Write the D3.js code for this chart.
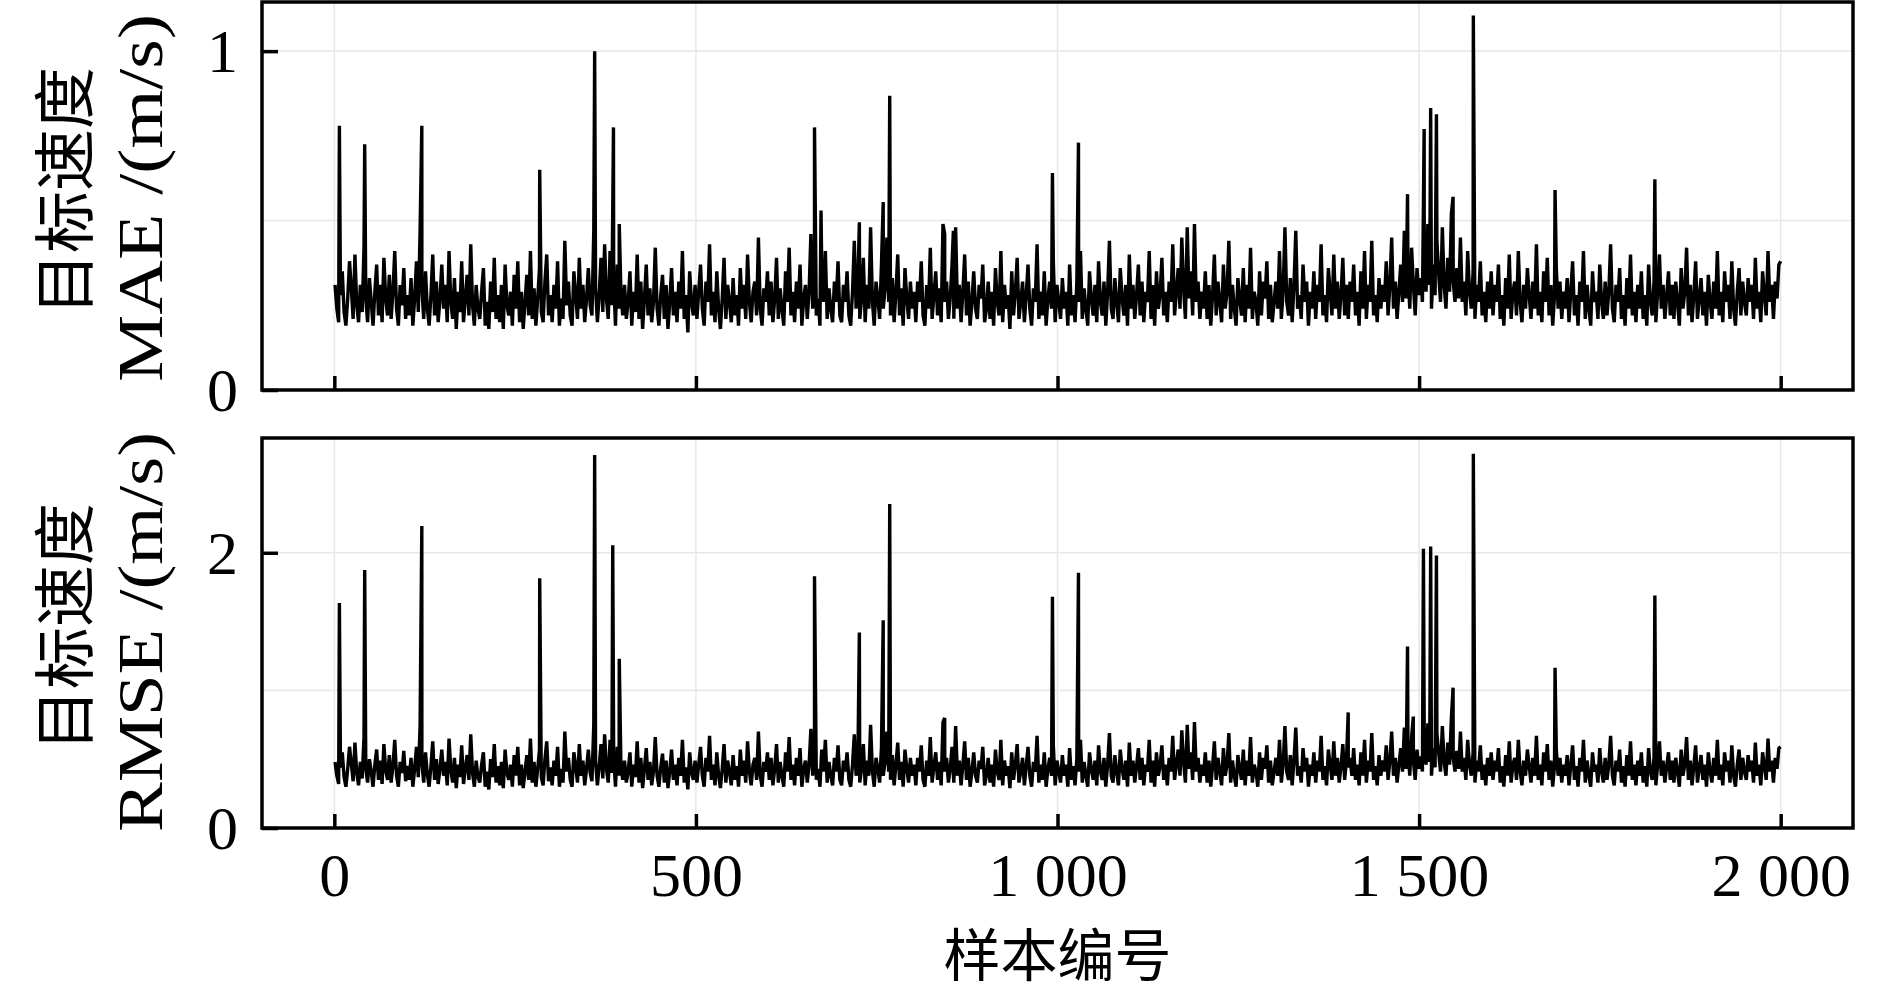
<!DOCTYPE html>
<html><head><meta charset="utf-8">
<script src="https://cdn.jsdelivr.net/npm/d3@7"></script>
<style>body{margin:0;background:#fff} svg{display:block}</style>
</head><body>
<svg id="chart" width="1890" height="993"></svg>
<script>
// ---------- data ----------
const xTickValues = [0, 500, 1000, 1500, 2000];
const xTickLabels = ["0", "500", "1 000", "1 500", "2 000"];
const maeTickValues = [0, 1];
const maeTickLabels = ["0", "1"];
const maeGridValues = [0.5, 1];
const rmseTickValues = [0, 2];
const rmseTickLabels = ["0", "2"];
const rmseGridValues = [1, 2];
const xLabel = "样本编号";
const yLabelCn = "目标速度";
const maeLabel = "MAE /(m/s)";
const rmseLabel = "RMSE /(m/s)";
const sampleFirst = 1, sampleLast = 2000;

// background noise, read about every 2.5 samples, in 0.01 m/s (one row = 50 samples)
const maeBaseCentis = [
31,24,20,28,35,23,19,27,38,30,21,40,25,20,31,23,42,27,20,33,
26,19,29,37,22,31,20,39,27,22,34,21,29,41,24,19,31,25,36,21,
28,22,33,19,27,38,23,47,30,21,35,24,19,28,40,22,32,20,27,37,
24,31,20,41,26,21,33,18,29,23,38,20,27,34,22,43,25,19,31,24,
21,29,36,19,26,18,32,23,39,21,28,20,31,18,37,25,22,29,19,34,
24,38,20,29,18,26,34,22,41,21,30,19,27,36,23,20,32,40,22,28,
20,31,24,38,19,27,21,44,25,32,22,19,35,28,21,39,24,31,20,27,
36,25,22,47,30,20,28,39,23,43,27,21,41,25,32,19,37,24,29,22,
31,21,26,35,19,29,23,40,21,32,18,27,37,22,30,20,26,42,24,19,
28,34,21,31,18,26,36,22,29,20,32,24,41,21,28,17,35,26,22,31,
21,29,37,24,19,32,26,43,22,29,20,35,24,18,27,39,21,31,26,20,
33,22,28,19,36,24,31,21,40,26,20,29,32,22,45,24,19,30,26,35,
22,32,20,27,39,21,30,24,19,35,26,42,22,29,20,32,24,37,19,27,
31,21,29,46,24,33,22,27,19,36,26,41,21,30,24,20,32,26,38,22,
20,31,26,35,22,19,29,44,24,32,21,27,39,20,31,24,48,26,19,32,
27,21,37,24,30,45,26,22,33,20,29,40,22,30,19,36,27,21,32,24,
29,20,32,26,38,22,19,31,24,42,21,28,35,22,30,20,49,26,32,21,
27,37,21,48,24,31,20,29,40,22,32,19,26,35,24,21,31,27,37,20,
24,32,21,29,19,36,26,22,41,20,31,24,28,18,35,22,29,39,21,26,
32,20,28,37,24,19,30,26,43,21,29,22,35,19,27,32,24,38,20,31,
26,21,33,24,29,19,37,22,28,20,32,26,41,21,30,24,19,35,27,22,
31,20,38,26,22,32,19,29,44,24,21,33,26,20,36,27,22,31,19,40,
24,31,21,28,37,22,32,20,29,26,41,21,31,19,35,24,28,39,22,29,
20,32,26,43,22,29,36,24,45,30,21,48,27,35,22,49,26,32,21,29,
24,35,21,31,19,28,40,22,32,26,20,37,24,29,44,21,31,24,19,33,
27,22,36,20,31,24,42,21,29,26,19,35,22,32,27,38,21,31,20,26,
32,24,41,21,29,48,26,22,33,20,31,47,24,28,21,37,26,32,19,29,
24,35,21,31,26,43,22,28,20,36,29,22,40,24,32,21,28,39,22,31,
21,32,26,37,22,29,19,35,24,41,21,31,26,44,22,28,20,33,24,31,
26,38,22,31,45,24,32,21,29,37,26,47,27,35,24,42,31,22,36,28,
33,26,41,29,49,31,24,37,28,44,34,26,48,31,24,39,29,52,32,26,
36,27,45,26,32,22,41,29,24,35,21,31,26,38,22,29,20,32,24,35,
22,31,26,37,21,28,19,33,24,40,21,29,32,22,41,26,20,31,24,36,
28,21,32,24,43,22,29,20,35,26,39,22,31,19,28,36,24,32,21,29,
24,33,20,29,38,22,28,19,32,26,41,21,31,24,19,35,26,29,21,37,
26,21,32,22,29,43,24,20,31,26,36,21,28,19,33,24,40,22,29,20,
31,24,35,21,28,19,37,26,22,32,20,29,40,24,31,21,28,35,22,31,
21,32,26,19,36,24,29,42,22,31,20,28,38,21,27,33,22,29,19,34,
26,21,32,24,41,22,29,20,35,26,31,21,38,24,19,29,36,22,32,26,
22,33,26,31,21,39,24,29,20,35,28,22,41,26,31,21,32,27,37,38];

const rmseBaseCentis = [
48,38,32,44,55,37,30,43,59,47,34,62,40,31,48,36,66,43,33,50,
41,30,46,57,35,49,32,61,42,35,53,33,45,64,38,30,48,40,56,34,
45,35,51,30,43,59,37,74,47,33,55,39,30,45,63,35,50,32,43,57,
38,48,31,65,42,33,51,29,46,37,60,32,43,53,35,68,40,30,49,37,
33,46,55,30,41,28,50,37,61,33,45,31,48,29,57,40,35,46,30,53,
38,59,31,46,29,41,53,35,65,33,48,30,43,57,37,31,50,63,34,44,
31,49,38,59,30,43,33,70,41,51,35,30,55,45,33,61,38,49,31,43,
57,40,34,75,48,31,45,61,36,68,43,33,64,40,51,30,59,38,46,35,
49,33,41,55,30,46,37,63,33,51,29,43,58,35,48,31,41,66,38,30,
44,54,33,49,29,41,57,35,46,31,51,38,64,33,44,28,55,41,35,49,
33,46,59,38,30,51,41,67,35,46,31,55,38,29,43,61,33,49,41,31,
53,35,45,30,57,38,49,33,63,41,31,46,51,35,70,38,30,48,41,55,
35,51,31,43,61,33,48,38,30,55,41,66,35,46,31,51,38,58,30,43,
49,33,46,72,38,53,35,43,30,57,41,64,33,48,38,31,51,41,60,35,
31,49,41,55,35,30,46,68,38,51,33,43,61,31,49,38,75,41,30,51,
43,33,58,38,48,70,41,35,53,31,46,62,35,48,30,57,43,33,51,38,
46,31,51,41,60,35,30,49,38,66,33,45,55,35,48,31,77,41,51,33,
43,59,33,74,38,49,31,46,63,35,51,30,41,55,38,33,49,43,59,31,
38,51,33,46,30,57,41,35,64,31,49,38,45,29,55,35,46,61,33,41,
51,31,45,59,38,30,48,41,67,33,46,35,55,30,43,51,38,60,31,49,
41,33,53,38,46,30,58,35,45,31,51,41,64,33,48,38,30,55,43,35,
49,31,60,41,35,51,30,46,69,38,33,53,41,31,57,43,35,49,30,62,
38,49,33,45,58,35,51,31,46,41,64,33,49,30,55,38,45,60,35,46,
31,51,41,67,35,46,57,38,71,48,33,75,43,55,35,77,41,51,33,46,
38,55,33,49,30,45,63,35,51,41,31,58,38,46,69,33,49,38,30,53,
43,35,57,31,49,38,66,33,46,41,30,55,35,51,43,60,33,49,31,41,
51,38,64,33,46,74,41,35,53,31,49,73,38,45,33,58,41,51,30,46,
38,55,33,49,41,67,35,45,31,57,46,35,63,38,51,33,45,61,35,49,
44,51,38,58,35,46,31,55,38,64,33,49,41,69,35,45,31,53,38,49,
41,60,35,49,70,38,51,33,46,58,41,73,43,55,38,66,49,35,57,43,
52,41,64,46,76,48,38,58,44,69,54,41,74,48,38,62,46,80,51,41,
56,43,70,41,51,35,64,46,38,55,33,49,41,60,35,46,31,51,38,55,
35,49,41,58,33,45,30,53,38,63,33,46,51,35,64,41,31,49,38,57,
45,33,51,38,67,35,46,31,55,41,61,35,49,30,45,57,38,51,33,46,
38,53,31,46,60,35,45,30,51,41,64,33,49,38,30,55,41,46,33,58,
41,33,51,35,46,67,38,31,49,41,57,33,45,30,53,38,63,35,46,31,
49,38,55,33,45,30,58,41,35,51,31,46,63,38,49,33,45,55,35,49,
33,51,41,30,57,38,46,66,35,49,31,45,60,33,43,53,35,46,30,55,
41,33,51,38,64,35,46,31,55,41,49,33,60,38,30,46,57,35,51,41,
35,53,41,49,33,62,38,46,31,55,45,35,65,41,49,33,51,43,58,59];

// isolated spikes [sample, value m/s]
const maeSpikes = [
[7,0.78],[42,0.725],[121,0.78],[284,0.65],[360,1.0],[386,0.775],[394,0.49],
[664,0.775],[673,0.53],[726,0.495],[759,0.555],[768,0.868],[844,0.46],[856,0.47],
[993,0.64],[1029,0.73],[1484,0.578],[1507,0.77],[1516,0.832],[1524,0.814],
[1547,0.57],[1575,1.105],[1688,0.59],[1826,0.622]];
const rmseSpikes = [
[7,1.635],[42,1.875],[121,2.195],[284,1.815],[360,2.71],[385,2.055],[394,1.23],
[664,1.83],[726,1.42],[759,1.51],[768,2.355],[844,0.80],[993,1.68],[1029,1.855],
[1402,0.84],[1484,1.318],[1492,0.81],[1506,2.03],[1516,2.045],[1524,1.98],
[1547,1.02],[1575,2.72],[1688,1.165],[1826,1.69]];

// ---------- build ----------
function buildSeries(baseCentis, spikes) {
  const n = baseCentis.length;
  const pts = baseCentis.map((c, i) => ({s: sampleFirst + i * (sampleLast - sampleFirst) / (n - 1), v: c / 100}));
  spikes.forEach(([s, v]) => pts.push({s, v}));
  pts.sort((a, b) => a.s - b.s);
  return pts;
}
const maeSeries = buildSeries(maeBaseCentis, maeSpikes);
const rmseSeries = buildSeries(rmseBaseCentis, rmseSpikes);

// ---------- layout ----------
const svg = d3.select("#chart");
const L = 262, R = 1853;
const x = d3.scaleLinear().domain([-100, 2100]).range([L, R]);

const serif = "'Liberation Serif', 'Times New Roman', serif";
const cjk = "'Noto Sans CJK SC', sans-serif";
const gridColor = "#e8e8e8";

const panels = [
  {top: 2, bottom: 390, ymax: 1.145, ticks: maeTickValues, tickLabels: maeTickLabels, grid: maeGridValues,
   data: maeSeries, label: maeLabel, labelLen: 368, cnY: 191, enY: 198, showX: false},
  {top: 438, bottom: 828, ymax: 2.834, ticks: rmseTickValues, tickLabels: rmseTickLabels, grid: rmseGridValues,
   data: rmseSeries, label: rmseLabel, labelLen: 400, cnY: 627, enY: 632, showX: true}
];

panels.forEach((p, pi) => {
  const y = d3.scaleLinear().domain([0, p.ymax]).range([p.bottom, p.top]);
  const g = svg.append("g");

  // grid
  g.append("g").selectAll("line").data(xTickValues).join("line")
    .attr("x1", d => x(d)).attr("x2", d => x(d)).attr("y1", p.top).attr("y2", p.bottom)
    .attr("stroke", gridColor).attr("stroke-width", 1.6);
  g.append("g").selectAll("line").data(p.grid).join("line")
    .attr("x1", L).attr("x2", R).attr("y1", d => y(d)).attr("y2", d => y(d))
    .attr("stroke", gridColor).attr("stroke-width", 1.6);

  // clip
  const cid = "clip" + pi;
  svg.append("clipPath").attr("id", cid).append("rect")
    .attr("x", L).attr("y", p.top).attr("width", R - L).attr("height", p.bottom - p.top);

  // data line
  const line = d3.line().x(d => x(d.s)).y(d => y(d.v));
  g.append("path").datum(p.data)
    .attr("clip-path", `url(#${cid})`)
    .attr("fill", "none").attr("stroke", "#000").attr("stroke-width", 3.4)
    .attr("stroke-linejoin", "bevel")
    .attr("d", line);

  // y axis (ticks inward)
  const yAxis = d3.axisLeft(y).tickValues(p.ticks)
    .tickFormat((d, i) => p.tickLabels[i]).tickSize(-16).tickPadding(24);
  const ya = g.append("g").attr("transform", `translate(${L},0)`).call(yAxis);
  ya.select(".domain").remove();
  ya.selectAll(".tick line").attr("stroke", "#000").attr("stroke-width", 3.5);
  ya.selectAll(".tick text").attr("font-family", serif).attr("font-size", 62).attr("fill", "#000")
    .attr("dy", "0.33em");

  // x axis (ticks inward)
  const xAxis = d3.axisBottom(x).tickValues(xTickValues)
    .tickFormat((d, i) => p.showX ? xTickLabels[i] : "").tickSize(-14).tickPadding(24);
  const xa = g.append("g").attr("transform", `translate(0,${p.bottom})`).call(xAxis);
  xa.select(".domain").remove();
  xa.selectAll(".tick line").attr("stroke", "#000").attr("stroke-width", 3.5);
  xa.selectAll(".tick text").attr("font-family", serif).attr("font-size", 62).attr("fill", "#000")
    .style("white-space", "pre");
  if (!p.showX) xa.selectAll(".tick text").remove();

  // frame
  g.append("rect").attr("x", L).attr("y", p.top).attr("width", R - L).attr("height", p.bottom - p.top)
    .attr("fill", "none").attr("stroke", "#000").attr("stroke-width", 3.5);

  // y labels
  g.append("text").attr("transform", `translate(88,${p.cnY}) rotate(-90)`)
    .attr("text-anchor", "middle").attr("font-family", cjk).attr("font-size", 62).attr("fill", "#000")
    .text(yLabelCn);
  g.append("text").attr("transform", `translate(162,${p.enY}) rotate(-90)`)
    .attr("text-anchor", "middle").attr("font-family", serif).attr("font-size", 64).attr("fill", "#000")
    .attr("textLength", p.labelLen).attr("lengthAdjust", "spacingAndGlyphs")
    .text(p.label);
});

// x label
svg.append("text").attr("x", (L + R) / 2).attr("y", 976).attr("text-anchor", "middle")
  .attr("font-family", cjk).attr("font-size", 57).attr("fill", "#000").text(xLabel);
</script>
</body></html>
